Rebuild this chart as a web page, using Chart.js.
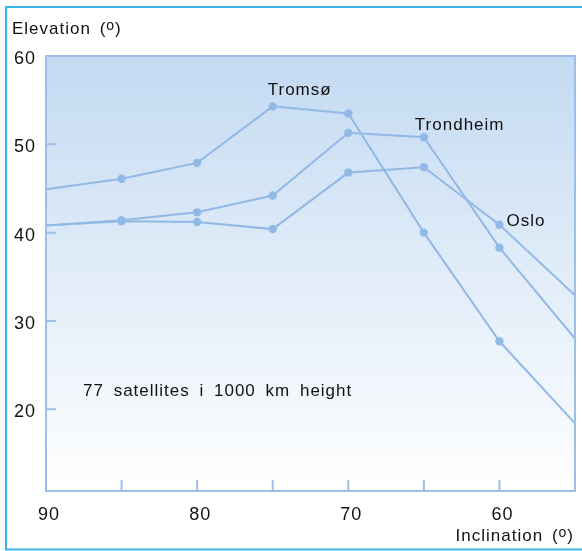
<!DOCTYPE html>
<html>
<head>
<meta charset="utf-8">
<script src="https://cdn.jsdelivr.net/npm/chart.js@4.4.1/dist/chart.umd.min.js"></script>
<style>
  html, body { margin: 0; padding: 0; background: #fff; }
  #wrap { width: 582px; height: 551px; }
</style>
</head>
<body>
<div id="wrap"><canvas id="chart" width="582" height="551"></canvas></div>
<script>
// data
var inclination = [90, 85, 80, 75, 70, 65, 60, 55];
var tromso      = [44.9, 46.1, 47.9, 54.3, 53.5, 40.0, 27.7, 18.4];
var trondheim   = [40.8, 41.4, 42.3, 44.2, 51.3, 50.8, 38.3, 28.0];
var oslo        = [40.8, 41.3, 41.2, 40.4, 46.8, 47.4, 40.9, 32.9];
var seriesNames = ['Tromsø', 'Trondheim', 'Oslo'];
var nameAt      = [75, 65, 60];
var yTicks      = [20, 30, 40, 50, 60];
var xTicks      = [90, 80, 70, 60];
var xMinor      = [85, 75, 65];
var yTitle      = 'Elevation';
var xTitle      = 'Inclination';
var note        = '77 satellites i 1000 km height';

var lineColor = '#92b9e6';
var textColor = '#111111';
var font = "'Liberation Sans', Arial, sans-serif";

function pts(vals) {
  return inclination.map(function (x, i) { return { x: x, y: vals[i] }; });
}
// no marker where the line meets the frame
var radii = inclination.map(function (x) { return (x === 90 || x === 55) ? 0 : 4.2; });

function ds(vals) {
  return {
    data: pts(vals),
    borderColor: lineColor,
    backgroundColor: lineColor,
    borderWidth: 2,
    pointRadius: radii,
    pointBorderWidth: 0,
    pointBackgroundColor: lineColor,
    tension: 0
  };
}

// writes "Title (o)" with a raised o
function degText(ctx, text, x, y, align) {
  ctx.font = '17px ' + font;
  var a = text + ' (';
  var wa = ctx.measureText(a).width;
  ctx.font = '14px ' + font;
  var wo = ctx.measureText('o').width;
  ctx.font = '17px ' + font;
  var wc = ctx.measureText(')').width;
  var x0 = align === 'right' ? x - (wa + wo + wc) : x;
  ctx.textAlign = 'left';
  ctx.fillText(a, x0, y);
  ctx.font = '14px ' + font;
  ctx.fillText('o', x0 + wa, y - 4);
  ctx.font = '17px ' + font;
  ctx.fillText(')', x0 + wa + wo, y);
}

var decor = {
  id: 'decor',
  beforeDraw: function (chart) {
    var ctx = chart.ctx, a = chart.chartArea;
    ctx.save();
    ctx.fillStyle = '#fff';
    ctx.fillRect(0, 0, chart.width, chart.height);
    var g = ctx.createLinearGradient(0, a.top, 0, a.bottom);
    g.addColorStop(0, '#c3daf2');
    g.addColorStop(1, '#ffffff');
    ctx.fillStyle = g;
    ctx.fillRect(a.left, a.top, a.right - a.left, a.bottom - a.top);
    // outer frame, open on the right
    ctx.strokeStyle = '#3cb6e6';
    ctx.lineWidth = 2;
    ctx.beginPath();
    ctx.moveTo(chart.width + 5, 7);
    ctx.lineTo(6, 7);
    ctx.lineTo(6, 549.5);
    ctx.lineTo(chart.width + 5, 549.5);
    ctx.stroke();
    ctx.restore();
    ctx.letterSpacing = '1px';
  },
  afterDatasetsDraw: function (chart) {
    var ctx = chart.ctx, a = chart.chartArea;
    var xs = chart.scales.x, ys = chart.scales.y;
    ctx.save();
    // plot border
    ctx.strokeStyle = '#9bbfe6';
    ctx.lineWidth = 2;
    ctx.strokeRect(a.left, a.top, a.right - a.left, a.bottom - a.top);
    // inner tick marks
    ctx.beginPath();
    yTicks.forEach(function (v) {
      var py = ys.getPixelForValue(v);
      if (py <= a.top + 1) return;
      ctx.moveTo(a.left, py);
      ctx.lineTo(a.left + 10, py);
    });
    xTicks.concat(xMinor).forEach(function (v) {
      var px = xs.getPixelForValue(v);
      if (px <= a.left + 1) return;
      ctx.moveTo(px, a.bottom);
      ctx.lineTo(px, a.bottom - 11);
    });
    ctx.stroke();

    ctx.fillStyle = textColor;
    ctx.letterSpacing = '1px';
    ctx.wordSpacing = '3px';
    ctx.textBaseline = 'alphabetic';
    ctx.font = '17px ' + font;
    ctx.textAlign = 'left';
    // series names beside their points
    var offs = [[-5, -11], [-9, -7], [7, 1]];
    chart.data.datasets.forEach(function (d, i) {
      var p = d.data[inclination.indexOf(nameAt[i])];
      var px = xs.getPixelForValue(p.x), py = ys.getPixelForValue(p.y);
      ctx.fillText(seriesNames[i], px + offs[i][0], py + offs[i][1]);
    });
    // note inside the plot
    ctx.wordSpacing = '4px';
    ctx.fillText(note, a.left + 37, a.top + 340);
    ctx.wordSpacing = '3px';
    // axis titles
    degText(ctx, yTitle, 12, 34, 'left');
    degText(ctx, xTitle, 574, 541, 'right');
    ctx.restore();
  }
};

new Chart(document.getElementById('chart'), {
  type: 'line',
  data: { datasets: [ds(tromso), ds(trondheim), ds(oslo)] },
  plugins: [decor],
  options: {
    responsive: false,
    animation: false,
    layout: { padding: { left: 6, right: 7, top: 56, bottom: 0 } },
    plugins: { legend: { display: false }, tooltip: { enabled: false } },
    scales: {
      x: {
        type: 'linear',
        reverse: true,
        min: 55,
        max: 90,
        grid: { display: false, drawTicks: false },
        border: { display: false },
        afterFit: function (s) { s.height = 60; },
        afterBuildTicks: function (s) { s.ticks = xTicks.map(function (v) { return { value: v }; }); },
        ticks: { padding: 13, labelOffset: 3, maxRotation: 0, color: textColor, font: { family: font, size: 18 } }
      },
      y: {
        min: 10.75,
        max: 60,
        grid: { display: false, drawTicks: false },
        border: { display: false },
        afterFit: function (s) { s.width = 40; },
        afterBuildTicks: function (s) { s.ticks = yTicks.map(function (v) { return { value: v }; }); },
        ticks: { padding: 10, labelOffset: 3, color: textColor, font: { family: font, size: 18 } }
      }
    }
  }
});
</script>
</body>
</html>
